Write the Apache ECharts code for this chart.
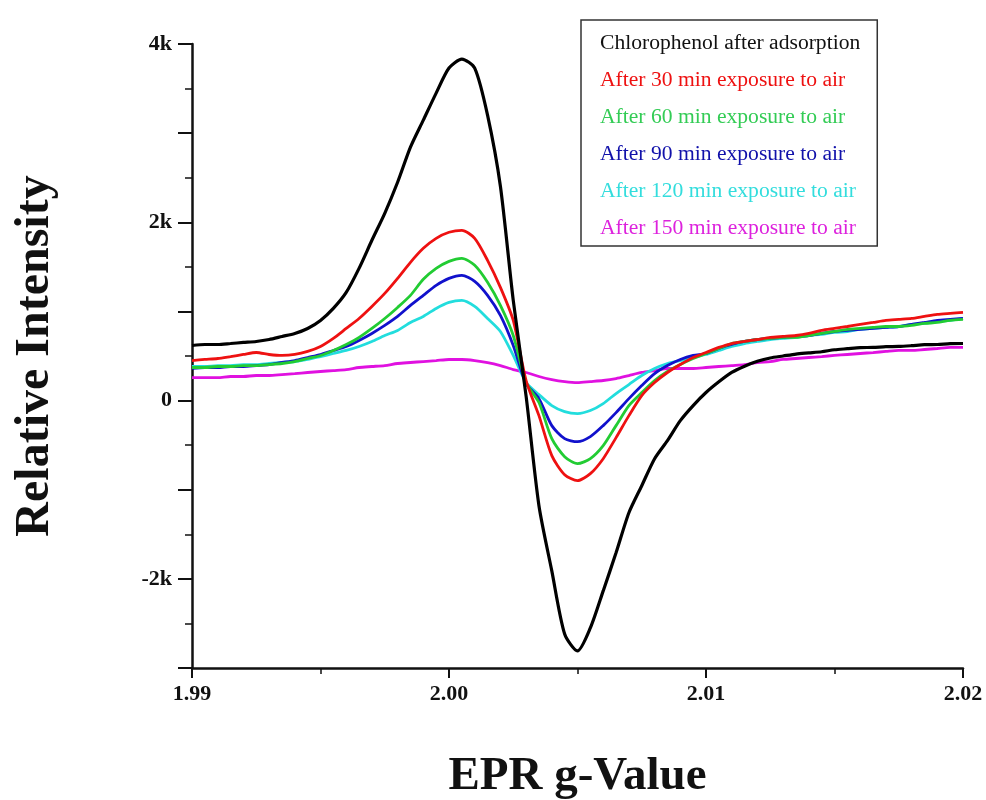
<!DOCTYPE html>
<html>
<head>
<meta charset="utf-8">
<script src="https://cdn.jsdelivr.net/npm/echarts@6/dist/echarts.min.js"></script>
<style>html,body{margin:0;padding:0;background:#fff}#chart{width:986px;height:800px}</style>
</head>
<body>
<div id="chart"></div>
<script>
var gValues = [1.9900,1.9905,1.9910,1.9915,1.9920,1.9925,1.9930,1.9935,1.9940,1.9945,
  1.9950,1.9955,1.9960,1.9965,1.9970,1.9975,1.9980,1.9985,1.9990,1.9995,
  2.0000,2.0005,2.0010,2.0015,2.0020,2.0025,2.0030,2.0035,2.0040,2.0045,
  2.0050,2.0055,2.0060,2.0065,2.0070,2.0075,2.0080,2.0085,2.0090,2.0095,
  2.0100,2.0105,2.0110,2.0115,2.0120,2.0125,2.0130,2.0135,2.0140,2.0145,
  2.0150,2.0155,2.0160,2.0165,2.0170,2.0175,2.0180,2.0185,2.0190,2.0195,2.0200];

var seriesNames = ['Chlorophenol after adsorption','After 30 min exposure to air','After 60 min exposure to air',
  'After 90 min exposure to air','After 120 min exposure to air','After 150 min exposure to air'];

var black = [618,629,629,640,652,663,685,719,753,809,899,
  1034,1213,1483,1798,2101,2449,2843,3146,3449,3730,
  3831,3730,3202,2404,1124,50,-1180,-1910,-2618,-2809,
  -2551,-2135,-1708,-1258,-955,-652,-449,-225,-56,90,
  210,315,385,440,478,500,522,535,548,570,
  582,594,596,605,607,616,627,629,638,640];

var red = [449,461,472,494,517,539,517,506,517,551,607,
  697,809,921,1056,1202,1371,1551,1708,1820,1888,
  1910,1820,1573,1270,899,225,-169,-618,-831,-899,
  -820,-652,-416,-169,56,202,315,404,483,539,
  596,640,663,685,708,719,730,753,787,809,
  831,854,876,899,910,921,944,966,978,989];

var green = [371,371,382,382,393,393,404,416,438,472,506,
  562,629,708,809,921,1045,1180,1360,1483,1562,
  1596,1517,1326,1067,730,202,-22,-427,-629,-708,
  -652,-506,-281,-56,90,225,326,404,472,528,
  584,640,663,685,697,708,708,730,753,775,
  798,809,820,831,831,843,865,876,899,910];

var blue = [360,371,371,382,382,393,404,427,449,483,517,
  562,607,674,753,843,944,1067,1180,1292,1371,
  1405,1337,1180,955,618,191,22,-281,-427,-461,
  -404,-281,-135,22,169,303,393,461,506,528,
  584,629,663,685,697,708,719,730,753,775,
  787,798,809,820,831,854,876,899,910,921];

var cyan = [382,382,393,393,404,404,416,427,438,461,494,
  528,562,607,663,730,787,876,944,1034,1101,
  1124,1056,921,775,506,202,67,-56,-124,-146,
  -112,-34,79,180,281,360,416,449,483,517,
  562,607,640,663,685,697,708,730,742,764,
  775,798,809,820,831,854,865,888,899,921];

var magenta = [258,258,258,270,270,281,281,292,303,315,326,
  337,348,371,382,393,416,427,438,449,461,
  461,449,427,393,348,315,270,236,213,202,
  213,225,247,281,315,337,360,360,360,371,
  382,393,404,427,438,461,472,483,494,506,
  517,528,539,551,562,562,573,584,596,596];

var yTickLabels = {'-2000':'-2k','0':'0','2000':'2k','4000':'4k'};

var colors = ['#000000','#ee1111','#22cc33','#1111cc','#22dddd','#e011e0'];
var textColors = ['#111111','#ee1111','#33cc55','#1111aa','#33dddd','#dd22dd'];
var valueSets = [black, red, green, blue, cyan, magenta];

function pairs(vals){ return gValues.map(function(g,i){ return [g, vals[i]]; }); }

var serif = '"Liberation Serif","Times New Roman",serif';

var series = seriesNames.map(function(n,i){
  return {
    name: n, type: 'line', data: pairs(valueSets[i]),
    symbol: 'none', smooth: 0.25,
    lineStyle: {color: colors[i], width: i === 0 ? 3.2 : 2.8},
    itemStyle: {color: colors[i]},
    z: 10 - i
  };
});

var chart = echarts.init(document.getElementById('chart'), null, {renderer:'canvas'});
chart.setOption({
  animation: false,
  backgroundColor: '#ffffff',
  grid: {left: 192, right: 23, top: 44, bottom: 132, containLabel: false, outerBoundsMode: 'none'},
  legend: {
    orient: 'vertical', left: 581, top: 20,
    icon: 'none', itemWidth: 0, itemHeight: 14, itemGap: 15,
    padding: [12, 17, 7, 14],
    backgroundColor: '#ffffff', borderColor: '#333333', borderWidth: 1.5,
    data: seriesNames.map(function(n,i){ return {name: n, textStyle: {color: textColors[i]}}; }),
    textStyle: {fontFamily: serif, fontSize: 21.6, lineHeight: 22}
  },
  xAxis: {
    type: 'value', min: 1.99, max: 2.02, interval: 0.01,
    name: 'EPR g-Value', nameLocation: 'middle', nameGap: 85,
    nameTextStyle: {fontFamily: serif, fontWeight: 'bold', fontSize: 47, color: '#111'},
    axisLine: {onZero: false, lineStyle: {color: '#111', width: 2.5}},
    axisTick: {show: true, inside: false, length: 10, lineStyle: {color: '#111', width: 2}},
    minorTick: {show: true, splitNumber: 2, length: 6, lineStyle: {color: '#111', width: 1.5}},
    splitLine: {show: false},
    axisLabel: {
      margin: 15, fontFamily: serif, fontWeight: 'bold', fontSize: 22, color: '#111',
      formatter: function(v){ return v.toFixed(2); }
    }
  },
  yAxis: {
    type: 'value', min: -3000, max: 4000, interval: 1000,
    name: 'Relative Intensity', nameLocation: 'middle', nameGap: 132, nameRotate: 90,
    nameTextStyle: {fontFamily: serif, fontWeight: 'bold', fontSize: 48, color: '#111'},
    axisLine: {show: true, lineStyle: {color: '#111', width: 2.5}},
    axisTick: {show: true, inside: false, length: 14, lineStyle: {color: '#111', width: 2}},
    minorTick: {show: true, splitNumber: 2, length: 7, lineStyle: {color: '#111', width: 1.5}},
    splitLine: {show: false},
    axisLabel: {
      margin: 20, fontFamily: serif, fontWeight: 'bold', fontSize: 22, color: '#111',
      formatter: function(v){ var k = String(Math.round(v)); return yTickLabels.hasOwnProperty(k) ? yTickLabels[k] : ''; }
    }
  },
  series: series
});
</script>
</body>
</html>
